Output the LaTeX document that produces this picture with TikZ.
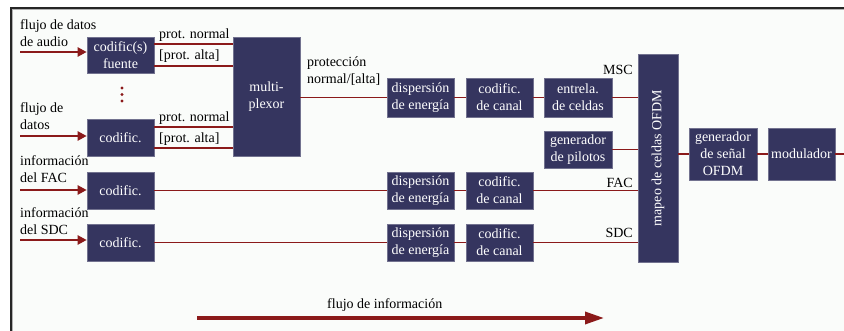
\documentclass[tikz,border=0pt]{standalone}
\usepackage{fontspec}
\setmainfont{Liberation Serif}
\usetikzlibrary{arrows.meta,calc}
\definecolor{boxc}{HTML}{35355F}
\definecolor{linec}{HTML}{8B1A1A}
\definecolor{bgc}{HTML}{FAFCFA}
\tikzset{
  blk/.style={draw=boxc!70!white, line width=0.6pt, fill=boxc, text=white, align=center, inner sep=0pt,
     font=\fontsize{14}{17}\selectfont},
  lbl/.style={inner sep=0pt, align=left, font=\fontsize{14}{17}\selectfont, text=black},
  conn/.style={draw=linec, line width=1.4pt},
  inarrow/.style={draw=linec, line width=2.2pt, -{Triangle[length=9pt,width=9pt]}},
}
\begin{document}
\begin{tikzpicture}[x=1pt,y=-1pt]
\useasboundingbox (0,0) rectangle (844,331);
\fill[white] (0,0) rectangle (844,331);
\fill[bgc] (11,8) rectangle (850,340);
\draw[black!85, line width=1.6pt] (11,340) -- (11,8) -- (850,8);
\draw[black!30, line width=0.8pt] (12.5,340) -- (12.5,9.5) -- (850,9.5);

% blocks
\node[blk, minimum width=67pt, minimum height=36pt] (cf1) at (120.5,55) {codific(s)\\fuente};
\node[blk, minimum width=67pt, minimum height=37pt] (cf2) at (120.5,137.5) {codific.};
\node[blk, minimum width=67pt, minimum height=119pt] (mux) at (266.5,96.5) {multi-\\plexor};
\node[blk, minimum width=67pt, minimum height=39pt] (disp1) at (420.5,97.5) {dispersión\\de energía};
\node[blk, minimum width=67pt, minimum height=39pt] (can1) at (499.5,97.5) {codific.\\de canal};
\node[blk, minimum width=68pt, minimum height=39pt] (ent) at (578,97.5) {entrela.\\de celdas};
\node[blk, minimum width=68pt, minimum height=37pt] (pil) at (578,149.5) {generador\\de pilotos};
\node[blk, minimum width=40pt, minimum height=208pt] (map) at (658,158) {\rotatebox{90}{mapeo de celdas OFDM}};
\node[blk, minimum width=68pt, minimum height=52pt] (ofdm) at (723,154) {generador\\de señal\\OFDM};
\node[blk, minimum width=67pt, minimum height=52pt] (mod) at (801.5,154) {modulador};
\node[blk, minimum width=67pt, minimum height=37pt] (cff) at (120.5,190.5) {codific.};
\node[blk, minimum width=67pt, minimum height=37pt] (cfs) at (120.5,242.5) {codific.};
\node[blk, minimum width=67pt, minimum height=37pt] (dispf) at (420.5,190.5) {dispersión\\de energía};
\node[blk, minimum width=67pt, minimum height=37pt] (canf) at (499.5,190.5) {codific.\\de canal};
\node[blk, minimum width=67pt, minimum height=37pt] (disps) at (420.5,242.5) {dispersión\\de energía};
\node[blk, minimum width=67pt, minimum height=37pt] (cans) at (499.5,242.5) {codific.\\de canal};

% input labels
\node[lbl, anchor=west] (l1) at (20,33.5) {flujo de datos\\de audio};
\node[lbl, anchor=west] (l2) at (20,116.5) {flujo de\\datos};
\node[lbl, anchor=west] (l3) at (20,169.5) {información\\del FAC};
\node[lbl, anchor=west] (l4) at (20,221) {información\\del SDC};

% input arrows
\coordinate (i1) at (20,52);
\coordinate (i2) at (20,136);
\coordinate (i3) at (20,190);
\coordinate (i4) at (20,240);
\draw[inarrow] (i1) -- (i1 -| cf1.west);
\draw[inarrow] (i2) -- (i2 -| cf2.west);
\draw[inarrow] (i3) -- (i3 -| cff.west);
\draw[inarrow] (i4) -- (i4 -| cfs.west);

% dots
\foreach \yy in {88,94.5,101} \fill[linec] (122,\yy) circle (1.6pt);

% codific -> mux
\draw[conn] ([yshift=11pt]cf1.east) -- ([yshift=11pt]cf1.east -| mux.west);
\draw[conn] ([yshift=-11pt]cf1.east) -- ([yshift=-11pt]cf1.east -| mux.west);
\draw[conn] ([yshift=10.5pt]cf2.east) -- ([yshift=10.5pt]cf2.east -| mux.west);
\draw[conn] ([yshift=-10.5pt]cf2.east) -- ([yshift=-10.5pt]cf2.east -| mux.west);
\node[lbl, anchor=west] (pn1) at (159,35.5) {prot. normal};
\node[lbl, anchor=west] (pa1) at (159,56.5) {[prot. alta]};
\node[lbl, anchor=west] (pn2) at (159,118) {prot. normal};
\node[lbl, anchor=west] (pa2) at (159,139) {[prot. alta]};

% MSC chain
\draw[conn] (disp1.west -| mux.east) -- (disp1.west);
\node[lbl, anchor=west] (prot) at (307,71) {protección\\normal/[alta]};
\draw[conn] (disp1) -- (can1);
\draw[conn] (can1) -- (ent);
\draw[conn] (ent.east) -- (ent.east -| map.west);
\draw[conn] (pil.east) -- (pil.east -| map.west);
\node[lbl, anchor=east] (msc) at (633,70) {MSC};

% FAC / SDC
\draw[conn] (cff) -- (dispf);
\draw[conn] (dispf) -- (canf);
\draw[conn] (canf.east) -- (canf.east -| map.west);
\node[lbl, anchor=east] (fac) at (633,183) {FAC};
\draw[conn] (cfs) -- (disps);
\draw[conn] (disps) -- (cans);
\draw[conn] (cans.east) -- (cans.east -| map.west);
\node[lbl, anchor=east] (sdc) at (633,232.5) {SDC};

% output
\draw[conn] (ofdm.west -| map.east) -- (ofdm.west);
\draw[conn] (ofdm) -- (mod);
\coordinate (out) at (844,154);
\draw[conn] (mod.east) -- (out);

% flow arrow
\coordinate (fa) at (197,318);
\coordinate (fb) at (604,318);
\draw[draw=linec, line width=3.4pt, -{Triangle[length=19pt,width=12pt]}] (fa) -- (fb);
\node[lbl, anchor=west] (flow) at (327,305.5) {flujo de información};
\end{tikzpicture}
\end{document}
